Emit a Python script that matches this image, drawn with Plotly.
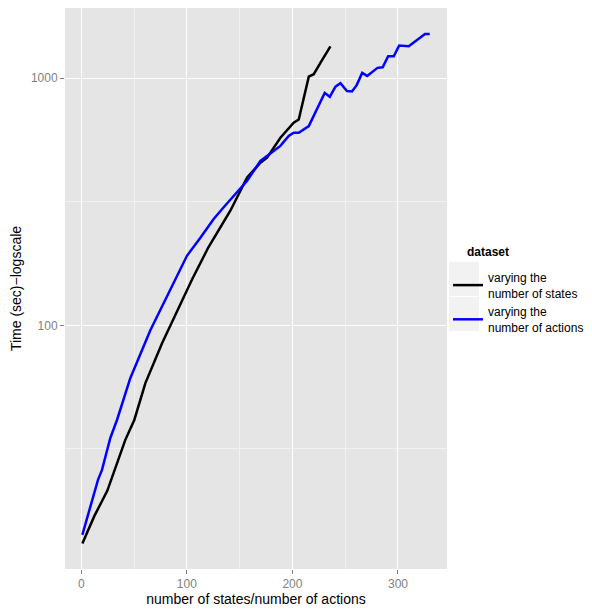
import plotly.graph_objects as go

# Series: varying the number of states (black)
states_x = [1, 12.3, 24.6, 33.1, 41.7, 50.2, 60.7, 76.5, 89.1, 104.9, 120.4, 141.2, 157.1,
            169.7, 176, 188.6, 201.2, 206, 215.5, 220.2, 227.5, 236]
states_y = [13.1, 16.9, 21.4, 27.3, 34.4, 41.4, 58.4, 84.6, 110.5, 153.3, 206.9, 290.9, 396.3,
            455.3, 477, 574, 660, 681, 1014, 1038, 1172, 1346]

# Series: varying the number of actions (blue)
actions_x = [1, 15.8, 19.6, 27.5, 33.8, 46.4, 65.4, 79.6, 100.2, 112.8, 125.4, 134.9,
             157.1, 169.7, 188.6, 196.5, 201.2, 206, 215.5, 230.6, 235.4, 240.8, 245.5,
             251.7, 256.4, 260.9, 266.1, 270.8, 280.6, 285.5, 290.7, 296, 301.1, 310.2,
             325.6, 330.1]
actions_y = [14.2, 23.7, 26.0, 35.0, 41.4, 61.1, 95.5, 126.1, 191.6, 226.3, 269.4, 300.5,
             384.4, 462.6, 532, 583.6, 601.8, 601.8, 640.3, 872.4, 840.9, 924.5, 954.2,
             886.6, 884, 937.4, 1050.6, 1021.6, 1101, 1107, 1227, 1227, 1355, 1346,
             1510, 1510]

x_ticks = [0, 100, 200, 300]
x_minor = [50, 150, 250]
y_ticks = [100, 1000]
y_tick_labels = ["100", "1000"]
y_minor = [31.62, 316.2]

FONT = "Liberation Sans, Arial, Helvetica, sans-serif"

# the page body has an 8px margin; the figure is sized/offset to compensate
PW, PH = 382, 561  # plot area in px (screen x 65..447, y 8..569)

fig = go.Figure()
fig.add_trace(go.Scatter(x=states_x, y=states_y, mode="lines",
                         name="varying the<br>number of states",
                         line=dict(color="black", width=2.5)))
fig.add_trace(go.Scatter(x=actions_x, y=actions_y, mode="lines",
                         name="varying the<br>number of actions",
                         line=dict(color="#0000FF", width=2.5)))

# legend key backgrounds (ggplot style)
for y0, y1 in [(262, 296), (297, 331)]:
    fig.add_shape(type="rect", xref="paper", yref="paper",
                  x0=(449 - 65) / PW, x1=(479 - 65) / PW,
                  y0=(569 - y1) / PH, y1=(569 - y0) / PH,
                  fillcolor="#F2F2F2", line=dict(width=0), layer="below")

# legend title
fig.add_annotation(text="<b>dataset</b>", xref="paper", yref="paper",
                   x=(465 - 65) / PW, y=(569 - 252) / PH, xanchor="left", yanchor="middle",
                   showarrow=False, font=dict(size=12, color="black"))

fig.update_layout(
    width=584, height=601,
    margin=dict(l=57, r=145, t=0, b=40),
    paper_bgcolor="white", plot_bgcolor="#E5E5E5",
    font=dict(family=FONT, size=12, color="black"),
    showlegend=True,
    legend=dict(
        x=(448 - 65) / PW, xanchor="left", y=(569 - 263) / PH, yanchor="top",
        bgcolor="rgba(0,0,0,0)", font=dict(size=12),
        itemwidth=30, tracegroupgap=0,
    ),
    xaxis=dict(
        range=[-15.45, 346.45], tickvals=x_ticks, automargin=False,
        showgrid=True, gridcolor="white", gridwidth=1.2,
        zeroline=False, showline=False,
        ticks="outside", ticklen=4, tickcolor="#7F7F7F", tickwidth=1,
        tickfont=dict(color="#7F7F7F", size=12),
        minor=dict(tickvals=x_minor, showgrid=True, gridcolor="#F2F2F2", gridwidth=0.6, ticks=""),
        title=dict(text="number of states/number of actions", font=dict(size=14), standoff=2),
    ),
    yaxis=dict(
        type="log", range=[1.014, 3.284], tickvals=y_ticks, ticktext=y_tick_labels,
        automargin=False,
        showgrid=True, gridcolor="white", gridwidth=1.2,
        zeroline=False, showline=False,
        ticks="outside", ticklen=4, tickcolor="#7F7F7F", tickwidth=1,
        tickfont=dict(color="#7F7F7F", size=12),
        minor=dict(tickvals=y_minor, showgrid=True, gridcolor="#F2F2F2", gridwidth=0.6, ticks=""),
        title=dict(text="Time (sec)−logscale", font=dict(size=14), standoff=12),
    ),
)

fig.write_html("out.html")
